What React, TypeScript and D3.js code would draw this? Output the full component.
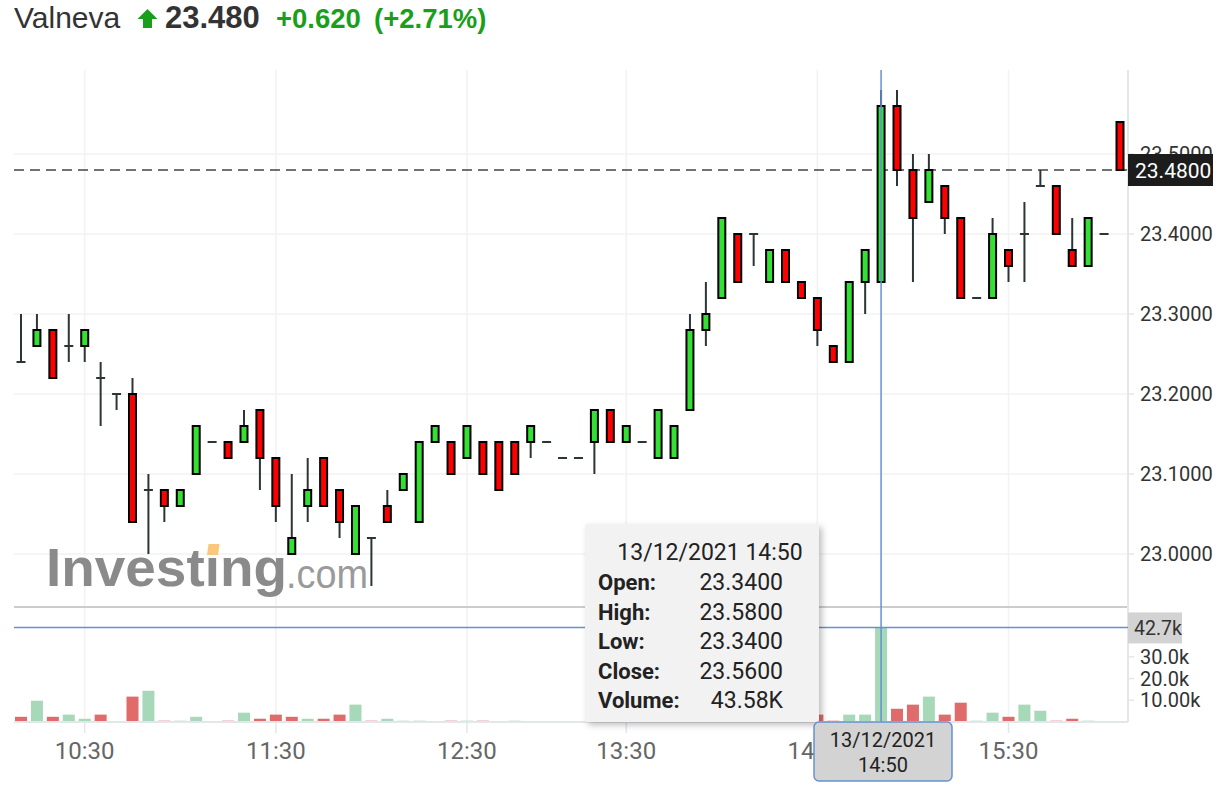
import React from "react";
import * as d3 from "d3";

const times = [
  "10:10","10:15","10:20","10:25","10:30","10:35","10:40","10:45","10:50","10:55",
  "11:00","11:05","11:10","11:15","11:20","11:25","11:30","11:35","11:40","11:45",
  "11:50","11:55","12:00","12:05","12:10","12:15","12:20","12:25","12:30","12:35",
  "12:40","12:45","12:50","12:55","13:00","13:10","13:15","13:25","13:30","13:35",
  "13:40","13:45","13:50","13:55","14:00","14:05","14:10","14:15","14:20","14:25",
  "14:30","14:35","14:40","14:45","14:50","14:55","15:00","15:05","15:10","15:15",
  "15:20","15:25","15:30","15:35","15:40","15:45","15:50","15:55","16:00","16:05",
];

const opens = [
  23.24,23.26,23.28,23.26,23.26,23.22,23.20,23.20,23.08,23.08,
  23.06,23.10,23.14,23.14,23.14,23.18,23.12,23.00,23.06,23.12,
  23.08,23.00,23.02,23.06,23.08,23.04,23.14,23.14,23.12,23.14,
  23.14,23.14,23.14,23.14,23.12,23.12,23.14,23.18,23.14,23.14,
  23.12,23.12,23.18,23.28,23.32,23.40,23.40,23.34,23.38,23.34,
  23.32,23.26,23.24,23.34,23.34,23.56,23.48,23.44,23.46,23.42,
  23.32,23.32,23.38,23.40,23.46,23.46,23.38,23.36,23.40,23.54,
];
const highs = [
  23.30,23.30,23.28,23.30,23.28,23.24,23.20,23.22,23.10,23.08,
  23.08,23.16,23.14,23.14,23.18,23.18,23.12,23.10,23.12,23.12,
  23.08,23.06,23.02,23.08,23.10,23.14,23.16,23.14,23.16,23.14,
  23.14,23.14,23.16,23.14,23.12,23.12,23.18,23.18,23.16,23.14,
  23.18,23.16,23.30,23.34,23.42,23.40,23.40,23.38,23.38,23.34,
  23.32,23.26,23.34,23.38,23.58,23.58,23.50,23.50,23.46,23.42,
  23.32,23.42,23.38,23.44,23.48,23.46,23.42,23.42,23.40,23.54,
];
const lows = [
  23.24,23.26,23.22,23.24,23.24,23.16,23.18,23.04,23.00,23.04,
  23.06,23.10,23.14,23.12,23.14,23.08,23.04,23.00,23.04,23.06,
  23.02,23.00,22.96,23.04,23.08,23.04,23.14,23.10,23.12,23.10,
  23.08,23.10,23.12,23.14,23.12,23.12,23.10,23.14,23.14,23.14,
  23.12,23.12,23.18,23.26,23.32,23.34,23.36,23.34,23.34,23.32,
  23.26,23.24,23.24,23.30,23.34,23.46,23.34,23.44,23.40,23.32,
  23.32,23.32,23.34,23.34,23.46,23.40,23.36,23.36,23.40,23.48,
];
const closes = [
  23.24,23.28,23.22,23.26,23.28,23.22,23.20,23.04,23.08,23.06,
  23.08,23.16,23.14,23.12,23.16,23.12,23.06,23.02,23.08,23.06,
  23.04,23.06,23.02,23.04,23.10,23.14,23.16,23.10,23.16,23.10,
  23.08,23.10,23.16,23.14,23.12,23.12,23.18,23.14,23.16,23.14,
  23.18,23.16,23.28,23.30,23.42,23.34,23.40,23.38,23.34,23.32,
  23.28,23.24,23.34,23.38,23.56,23.48,23.42,23.48,23.42,23.32,
  23.32,23.40,23.36,23.40,23.46,23.40,23.36,23.42,23.40,23.48,
];
// volume in thousands
const volumes = [
  2.4,9.8,2.4,3.4,1.5,3.4,0,11.7,14.4,0.6,
  0.6,2.4,0,0.6,4.3,1.5,3.4,2.4,1.5,1.5,
  3.4,8.0,0.6,1.5,0.6,0.6,0,0.6,0.6,0.6,
  0,0.6,0,0,0,0,1.5,0.6,0.6,0,
  2.4,1.5,9.8,3.4,11.7,4.3,0.6,2.4,1.5,2.4,
  3.4,0.6,3.4,3.4,43.58,6.1,8.0,11.7,3.4,8.9,
  0.6,4.3,2.4,8.0,5.2,0.6,1.5,0.6,0,0,
];

const priceTicks = [23.0, 23.1, 23.2, 23.3, 23.4, 23.5];
const volumeTicks = [10, 20, 30];
const volumeTickLabels = ["10.00k", "20.0k", "30.0k"];
const timeTicks = ["10:30", "11:30", "12:30", "13:30", "14:30", "15:30"];

const lastPrice = 23.48;
const hoverIndex = 54;
const hoverVolumeLabel = "42.7k";
const hoverDate = "13/12/2021";

const title = "Valneva";
const priceText = "23.480";
const changeText = "+0.620";
const changePctText = "(+2.71%)";

const PLOT_LEFT = 14;
const PLOT_RIGHT = 1128;
const PLOT_TOP = 70;
const SEP_Y = 607;
const VOL_BASE = 722;

const GREEN = "#33e033";
const RED = "#ff0000";
const WICK = "#2b3535";
const VOL_GREEN = "#a7d8b8";
const VOL_RED = "#e06b6b";
const CROSS = "#6492cf";
const AXIS_FONT = "Roboto, 'Noto Sans', sans-serif";
const HEAD_FONT = "'Liberation Sans', Arial, sans-serif";

export default function App() {
  const x = d3.scalePoint<string>().domain(times).range([21, 1120]);
  const y = d3.scaleLinear().domain([23.0, 23.5]).range([554, 154]);
  const yv = d3.scaleLinear().domain([0, 10]).range([VOL_BASE, 700.3]);

  const hx = x(times[hoverIndex]) as number;
  const hvY = yv(volumes[hoverIndex]);

  const fmt4 = d3.format(".4f");

  const candles = times.map((t, i) => {
    const cx = x(t) as number;
    const o = opens[i], c = closes[i], h = highs[i], l = lows[i];
    const up = c > o;
    const doji = Math.abs(c - o) < 1e-9;
    return (
      <g key={t}>
        {h !== l && (
          <line x1={cx} x2={cx} y1={y(h)} y2={y(l)} stroke={WICK} strokeWidth={2} />
        )}
        {doji ? (
          <line x1={cx - 4.5} x2={cx + 4.5} y1={y(o)} y2={y(o)} stroke={WICK} strokeWidth={2} />
        ) : (
          <rect
            x={cx - 3.5}
            width={7}
            y={y(Math.max(o, c))}
            height={y(Math.min(o, c)) - y(Math.max(o, c))}
            fill={up ? GREEN : RED}
            stroke="#000"
            strokeWidth={2}
          />
        )}
      </g>
    );
  });

  const volBars = times.map((t, i) => {
    const cx = x(t) as number;
    const v = volumes[i];
    if (v <= 0) return null;
    const up = i > 0 ? closes[i] >= closes[i - 1] : closes[i] > opens[i];
    const top = yv(v);
    return (
      <rect key={"v" + t} x={cx - 6} width={12} y={top} height={VOL_BASE - top} fill={up ? VOL_GREEN : VOL_RED} />
    );
  });

  const hv = {
    o: fmt4(opens[hoverIndex]),
    h: fmt4(highs[hoverIndex]),
    l: fmt4(lows[hoverIndex]),
    c: fmt4(closes[hoverIndex]),
    v: volumes[hoverIndex].toFixed(2) + "K",
  };
  const ttRows: [string, string][] = [
    ["Open:", hv.o],
    ["High:", hv.h],
    ["Low:", hv.l],
    ["Close:", hv.c],
    ["Volume:", hv.v],
  ];

  return (
    <svg
      width={1226}
      height={802}
      style={{ position: "absolute", left: 0, top: 0, display: "block", background: "#fff" }}
    >
      <defs>
        <filter id="tshadow" x="-10%" y="-10%" width="130%" height="130%">
          <feDropShadow dx={3} dy={3} stdDeviation={3} floodColor="#000" floodOpacity={0.25} />
        </filter>
      </defs>

      {/* header */}
      <text x={14} y={28} fontFamily={HEAD_FONT} fontSize={30} fill="#333">{title}</text>
      <path d="M147.5,9 L157.5,19 L152,19 L152,28 L143,28 L143,19 L137.5,19 Z" fill="#1a9f1a" />
      <text x={165} y={28} fontFamily={HEAD_FONT} fontSize={31} fontWeight="bold" fill="#333">{priceText}</text>
      <text x={276} y={28} fontFamily={HEAD_FONT} fontSize={27.5} fontWeight="bold" fill="#1a9f1a">{changeText}</text>
      <text x={374} y={28} fontFamily={HEAD_FONT} fontSize={27.5} fontWeight="bold" fill="#1a9f1a">{changePctText}</text>

      {/* grid */}
      {priceTicks.map((p) => (
        <line key={"hg" + p} x1={PLOT_LEFT} x2={PLOT_RIGHT} y1={y(p)} y2={y(p)} stroke="#f2f2f2" strokeWidth={1.5} />
      ))}
      {timeTicks.map((t) => (
        <line key={"vg" + t} x1={x(t)} x2={x(t)} y1={PLOT_TOP} y2={VOL_BASE} stroke="#f2f2f2" strokeWidth={1.5} />
      ))}

      {/* watermark */}
      <text x={46} y={586} fontFamily={HEAD_FONT} fontSize={54} fontWeight="bold" fill="#8a8a8a" textLength={241} lengthAdjust="spacingAndGlyphs">Investing</text>
      <rect x={207} y={544} width={11} height={11} fill="#fbc77c" transform="skewX(-8) translate(78,0)" />
      <text x={286} y={588} fontFamily={HEAD_FONT} fontSize={40} fill="#9a9a9a" textLength={82} lengthAdjust="spacingAndGlyphs">.com</text>

      {/* separator between panes */}
      <line x1={PLOT_LEFT} x2={PLOT_RIGHT} y1={SEP_Y} y2={SEP_Y} stroke="#cccccc" strokeWidth={2} />

      {/* last price dashed line */}
      <line x1={PLOT_LEFT} x2={PLOT_RIGHT} y1={y(lastPrice)} y2={y(lastPrice)} stroke="#444" strokeWidth={1.5} strokeDasharray="10,6" />

      {/* candles */}
      {candles}

      {/* volume */}
      {volBars}

      {/* axes lines */}
      <line x1={PLOT_LEFT} x2={PLOT_RIGHT} y1={VOL_BASE} y2={VOL_BASE} stroke="#e3e6eb" strokeWidth={2} />
      <line x1={PLOT_RIGHT} x2={PLOT_RIGHT} y1={PLOT_TOP} y2={VOL_BASE} stroke="#e3e6eb" strokeWidth={2} />
      {timeTicks.map((t) => (
        <g key={"xt" + t}>
          <line x1={x(t)} x2={x(t)} y1={VOL_BASE} y2={VOL_BASE + 11} stroke="#e3e6eb" strokeWidth={1.5} />
          <text x={x(t)} y={759} textAnchor="middle" fontFamily={AXIS_FONT} fontSize={24} fill="#666">{t}</text>
        </g>
      ))}
      {priceTicks.map((p) => (
        <g key={"yt" + p}>
          <line x1={PLOT_RIGHT} x2={PLOT_RIGHT + 6} y1={y(p)} y2={y(p)} stroke="#e3e6eb" strokeWidth={1.5} />
          <text x={1140} y={y(p) + 7} fontFamily={AXIS_FONT} fontSize={20} fill="#333">{fmt4(p)}</text>
        </g>
      ))}
      {volumeTicks.map((v, i) => (
        <g key={"vt" + v}>
          <line x1={PLOT_RIGHT} x2={PLOT_RIGHT + 6} y1={yv(v)} y2={yv(v)} stroke="#e3e6eb" strokeWidth={1.5} />
          <text x={1140} y={yv(v) + 7} fontFamily={AXIS_FONT} fontSize={20} fill="#333">{volumeTickLabels[i]}</text>
        </g>
      ))}

      {/* last price label */}
      <rect x={1128} y={y(lastPrice) - 16} width={85} height={32} fill="#1c1c1c" />
      <text x={1135} y={y(lastPrice) + 7.5} fontFamily={AXIS_FONT} fontSize={21} fill="#fff">{fmt4(lastPrice)}</text>

      {/* crosshair */}
      <line x1={hx} x2={hx} y1={PLOT_TOP} y2={VOL_BASE} stroke={CROSS} strokeWidth={1.5} />
      <line x1={PLOT_LEFT} x2={PLOT_RIGHT} y1={hvY} y2={hvY} stroke={CROSS} strokeWidth={1.5} />
      <rect x={1128} y={hvY - 15} width={54} height={31} fill="#d3d3d3" />
      <text x={1134} y={hvY + 8} fontFamily={AXIS_FONT} fontSize={19.5} fill="#333">{hoverVolumeLabel}</text>

      {/* tooltip */}
      <g filter="url(#tshadow)">
        <rect x={585} y={524} width={234} height={198} fill="#f2f2f2" rx={2} />
      </g>
      <text x={710} y={560} textAnchor="middle" fontFamily={AXIS_FONT} fontSize={23} fill="#222">
        {hoverDate + " " + times[hoverIndex]}
      </text>
      {ttRows.map(([k, v], i) => (
        <g key={k}>
          <text x={598} y={590 + i * 29.6} fontFamily={AXIS_FONT} fontSize={22} fontWeight="bold" fill="#222">{k}</text>
          <text x={783} y={590 + i * 29.6} textAnchor="end" fontFamily={AXIS_FONT} fontSize={23} fill="#222">{v}</text>
        </g>
      ))}

      {/* crosshair x label */}
      <rect x={814} y={722} width={138} height={59} rx={5} fill="#d3d3d3" stroke={CROSS} strokeWidth={1.5} />
      <text x={883} y={747} textAnchor="middle" fontFamily={AXIS_FONT} fontSize={20} fill="#222">{hoverDate}</text>
      <text x={883} y={772} textAnchor="middle" fontFamily={AXIS_FONT} fontSize={20} fill="#222">{times[hoverIndex]}</text>
    </svg>
  );
}
